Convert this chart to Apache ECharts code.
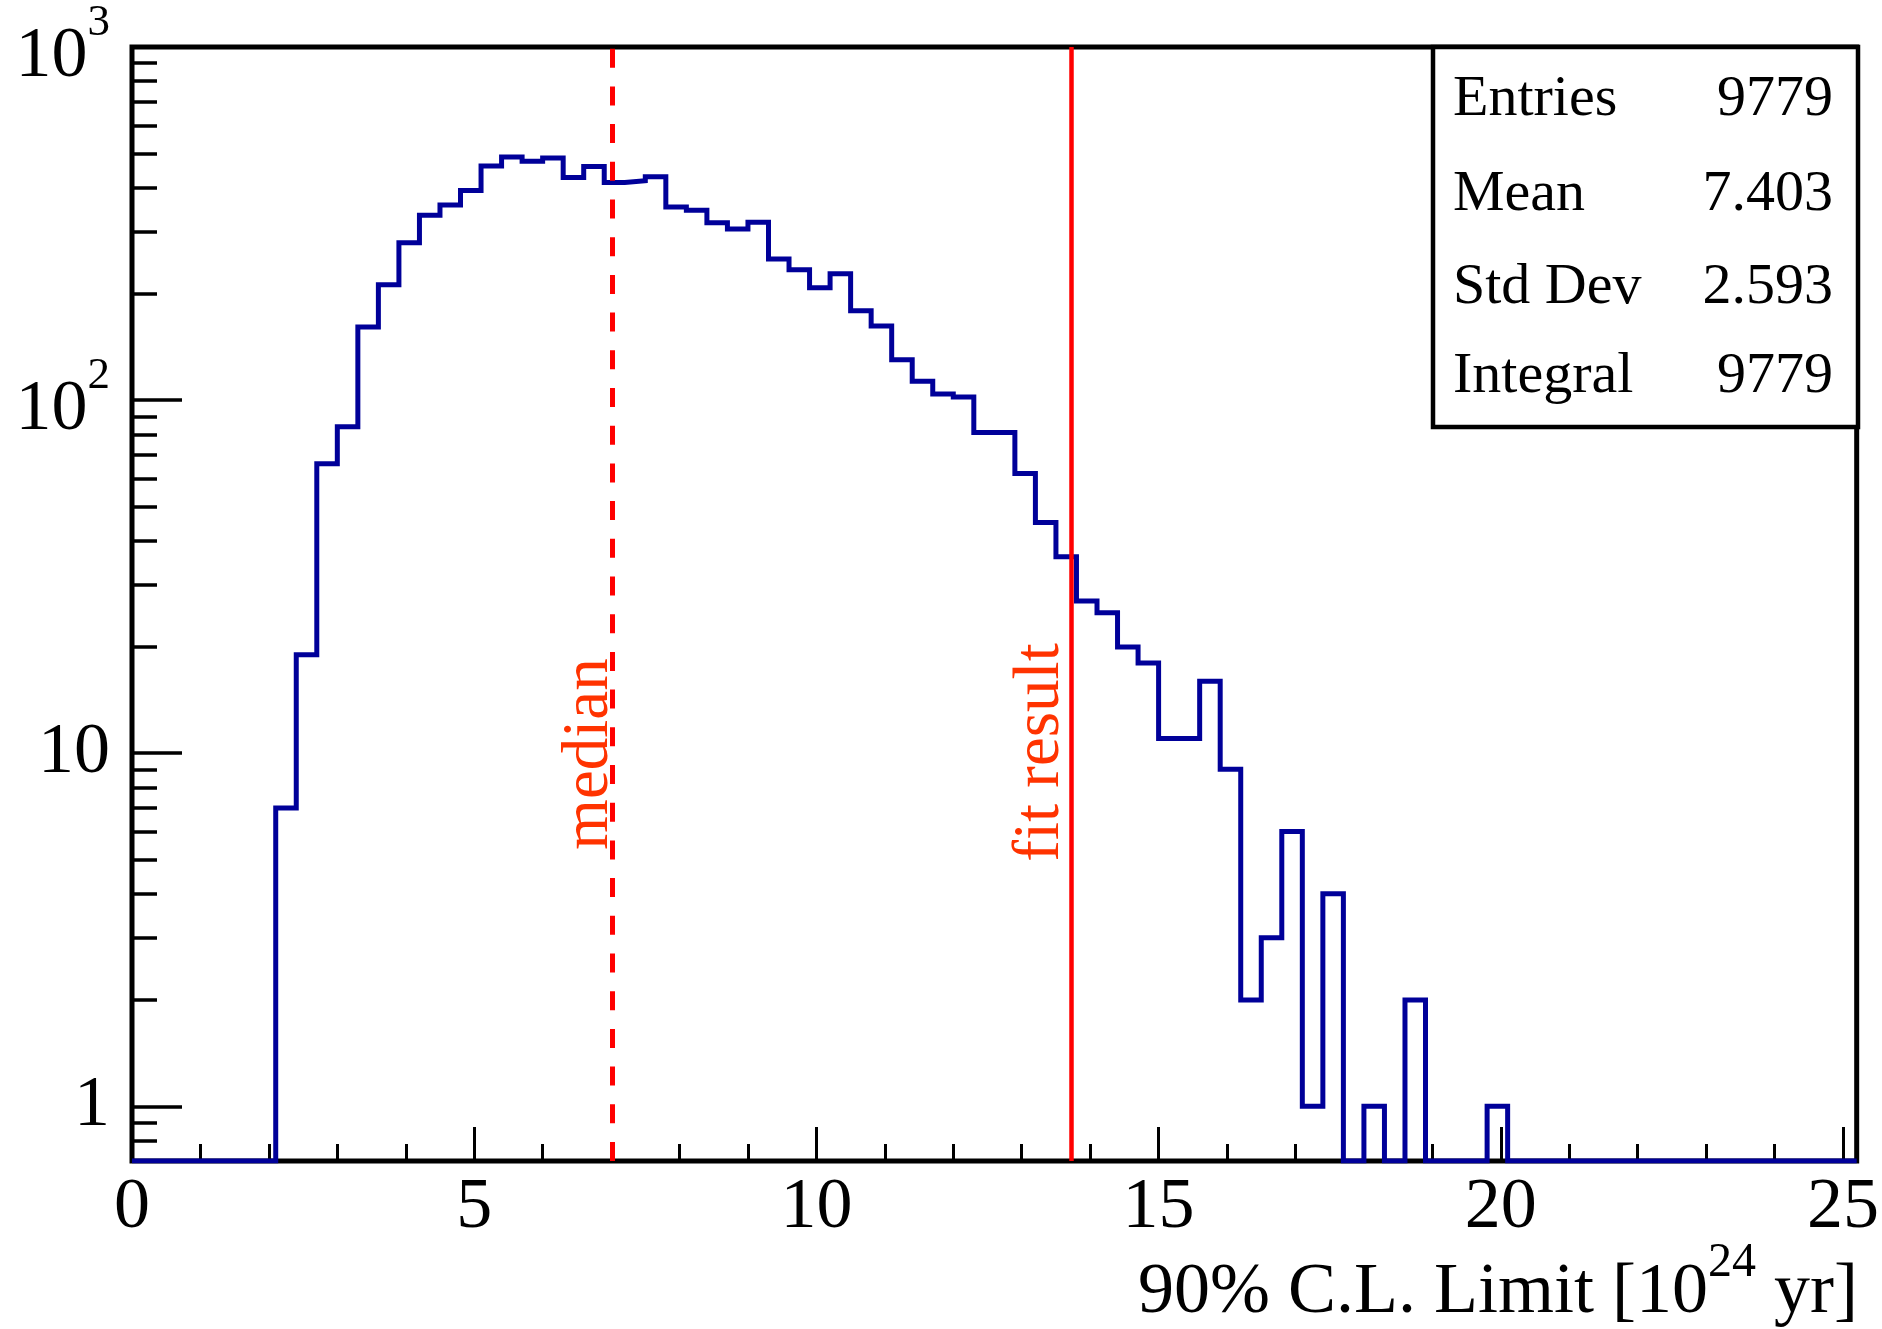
<!DOCTYPE html>
<html>
<head>
<meta charset="utf-8">
<script src="https://cdn.jsdelivr.net/npm/echarts@6/dist/echarts.min.js"></script>
<style>
html, body { margin: 0; padding: 0; background: #ffffff; }
#chart { width: 1882px; height: 1329px; }
</style>
</head>
<body>
<div id="chart"></div>
<script>
// ---------------- data ----------------
const binWidth = 0.3;
const xMin = 0;
const xMax = 25.2;
const yMin = 0.7;
const yMax = 1000;
// histogram contents, 84 bins of width 0.3 from 0 to 25.2
const counts = [
  0, 0, 0, 0, 0, 0, 0, 7, 19, 66,
  84, 161, 212, 279, 334, 357, 392, 460, 488, 475,
  485, 427, 459, 413, 418, 429, 352, 345, 318, 305,
  319, 251, 234, 208, 228, 179, 162, 130, 113, 104,
  102, 81, 81, 62, 45, 36, 27, 25, 20, 18,
  11, 11, 16, 9, 2, 3, 6, 1, 4, 0,
  1, 0, 2, 0, 0, 0, 1, 0, 0, 0,
  0, 0, 0, 0, 0, 0, 0, 0, 0, 0,
  0, 0, 0, 0
];
const xMajorTicks = [0, 5, 10, 15, 20, 25];
const xMinorTicks = [1, 2, 3, 4, 6, 7, 8, 9, 11, 12, 13, 14, 16, 17, 18, 19, 21, 22, 23, 24];
const yMajorTicks = [1, 10, 100, 1000];
const yMajorLabels = ['1', '10', '10^2', '10^3'];
const yMinorTicks = [0.8, 0.9, 2, 3, 4, 5, 6, 7, 8, 9, 20, 30, 40, 50, 60, 70, 80, 90,
                     200, 300, 400, 500, 600, 700, 800, 900];
const medianValue = 7.02;
const fitValue = 13.72;
const markerNames = ['median', 'fit result'];
const statsLabels = ['Entries', 'Mean', 'Std Dev', 'Integral'];
const statsValues = ['9779', '7.403', '2.593', '9779'];
const xTitleMain = '90% C.L. Limit [10';
const xTitleSup = '24';
const xTitleEnd = ' yr]';

// ---------------- styling ----------------
const FONT = "'Liberation Serif', 'Times New Roman', 'DejaVu Serif', serif";
const HIST_COLOR = '#000099';
const RED = '#ff0000';
const TEXT_RED = '#ff3300';

const chart = echarts.init(document.getElementById('chart'), null, { renderer: 'canvas' });

const histPoints = counts.map((c, i) => [Number((xMin + i * binWidth).toFixed(4)), c > 0 ? c : yMin]);
histPoints.push([xMax, counts[counts.length - 1] > 0 ? counts[counts.length - 1] : yMin]);

function yLabelFormatter(v) {
  const idx = yMajorTicks.findIndex(t => Math.abs(t - v) / t < 1e-6);
  if (idx < 0) return '';
  const lab = yMajorLabels[idx];
  if (lab.indexOf('^') >= 0) {
    const p = lab.split('^');
    return '{h|\u200b}{b|' + p[0] + '}{s|' + p[1] + '}';
  }
  return '{c|' + lab + '}';
}

const option = {
  animation: false,
  backgroundColor: '#ffffff',
  grid: {
    left: 132, right: 24, top: 47, bottom: 168,
    show: true, borderColor: '#000000', borderWidth: 5, backgroundColor: 'transparent'
  },
  xAxis: [
    {
      type: 'value', min: xMin, max: xMax, position: 'bottom',
      axisLine: { show: false },
      splitLine: { show: false },
      axisTick: { show: true, inside: true, length: 34, customValues: xMajorTicks,
                  lineStyle: { color: '#000', width: 3 } },
      axisLabel: { show: true, customValues: xMajorTicks, margin: 11,
                   fontFamily: FONT, fontSize: 72, lineHeight: 72, color: '#000',
                   formatter: v => String(v) }
    },
    {
      type: 'value', min: xMin, max: xMax, position: 'bottom',
      axisLine: { show: false },
      splitLine: { show: false },
      axisLabel: { show: false },
      axisTick: { show: true, inside: true, length: 17, customValues: xMinorTicks,
                  lineStyle: { color: '#000', width: 3 } }
    }
  ],
  yAxis: [
    {
      type: 'log', logBase: 10, min: yMin, max: yMax, position: 'left',
      axisLine: { show: false },
      splitLine: { show: false },
      axisTick: { show: true, inside: true, length: 50, customValues: yMajorTicks,
                  lineStyle: { color: '#000', width: 3.5 } },
      axisLabel: {
        show: true, customValues: yMajorTicks, margin: 22, color: '#000',
        fontFamily: FONT,
        formatter: yLabelFormatter,
        rich: {
          h: { fontSize: 10, lineHeight: 92, fontFamily: FONT },
          b: { fontSize: 72, lineHeight: 72, verticalAlign: 'bottom', fontFamily: FONT, color: '#000' },
          s: { fontSize: 45, lineHeight: 58, verticalAlign: 'top', fontFamily: FONT, color: '#000' },
          c: { fontSize: 72, lineHeight: 72, fontFamily: FONT, color: '#000' }
        }
      }
    },
    {
      type: 'log', logBase: 10, min: yMin, max: yMax, position: 'left',
      axisLine: { show: false },
      splitLine: { show: false },
      axisLabel: { show: false },
      axisTick: { show: true, inside: true, length: 25, customValues: yMinorTicks,
                  lineStyle: { color: '#000', width: 3.5 } }
    }
  ],
  series: [
    {
      type: 'line',
      xAxisIndex: 0, yAxisIndex: 0,
      step: 'end',
      data: histPoints,
      showSymbol: false,
      symbol: 'none',
      lineStyle: { color: HIST_COLOR, width: 5, join: 'miter', cap: 'butt' },
      z: 3,
      markLine: {
        silent: true,
        symbol: ['none', 'none'],
        label: { show: false },
        data: [
          { xAxis: medianValue, lineStyle: { color: RED, width: 5, type: [19, 18.7] } },
          { xAxis: fitValue, lineStyle: { color: RED, width: 4.5, type: 'solid' } }
        ]
      }
    }
  ]
};

chart.setOption(option);

// ---------- annotations placed through the axis scale ----------
const medianPx = chart.convertToPixel({ xAxisIndex: 0 }, medianValue);
const fitPx = chart.convertToPixel({ xAxisIndex: 0 }, fitValue);
const markerCenters = [medianPx - 23, fitPx - 30];
const markerY = [754, 752.5];

const elements = [];
markerNames.forEach((name, i) => {
  elements.push({
    type: 'text', x: markerCenters[i], y: markerY[i], rotation: Math.PI / 2, z: 50,
    style: { text: name, fill: TEXT_RED, fontFamily: FONT, fontSize: 65,
             align: 'center', verticalAlign: 'middle' }
  });
});

// stats box
elements.push({
  type: 'rect', z: 60,
  shape: { x: 1433, y: 47, width: 425, height: 380 },
  style: { fill: '#ffffff', stroke: '#000000', lineWidth: 4.5 }
});
const statsRowY = [100, 195, 288, 377];
statsLabels.forEach((lab, i) => {
  elements.push({
    type: 'text', x: 1453, y: statsRowY[i], z: 61,
    style: { text: lab, fill: '#000', fontFamily: FONT, fontSize: 58, align: 'left', verticalAlign: 'middle' }
  });
  elements.push({
    type: 'text', x: 1833, y: statsRowY[i], z: 61,
    style: { text: statsValues[i], fill: '#000', fontFamily: FONT, fontSize: 58, align: 'right', verticalAlign: 'middle' }
  });
});

// x axis title with superscript
elements.push({
  type: 'text', x: 1858, y: 1284, z: 50,
  style: {
    text: '{h|\u200b}{t|' + xTitleMain + '}{s|' + xTitleSup + '}{t|' + xTitleEnd + '}',
    align: 'right', verticalAlign: 'middle', fill: '#000',
    rich: {
      h: { fontSize: 10, lineHeight: 90, fontFamily: FONT },
      t: { fontSize: 72, lineHeight: 72, verticalAlign: 'bottom', fontFamily: FONT, fill: '#000', color: '#000' },
      s: { fontSize: 48, lineHeight: 56, verticalAlign: 'top', fontFamily: FONT, fill: '#000', color: '#000' }
    }
  }
});

chart.setOption({ graphic: { elements: elements } });
</script>
</body>
</html>
